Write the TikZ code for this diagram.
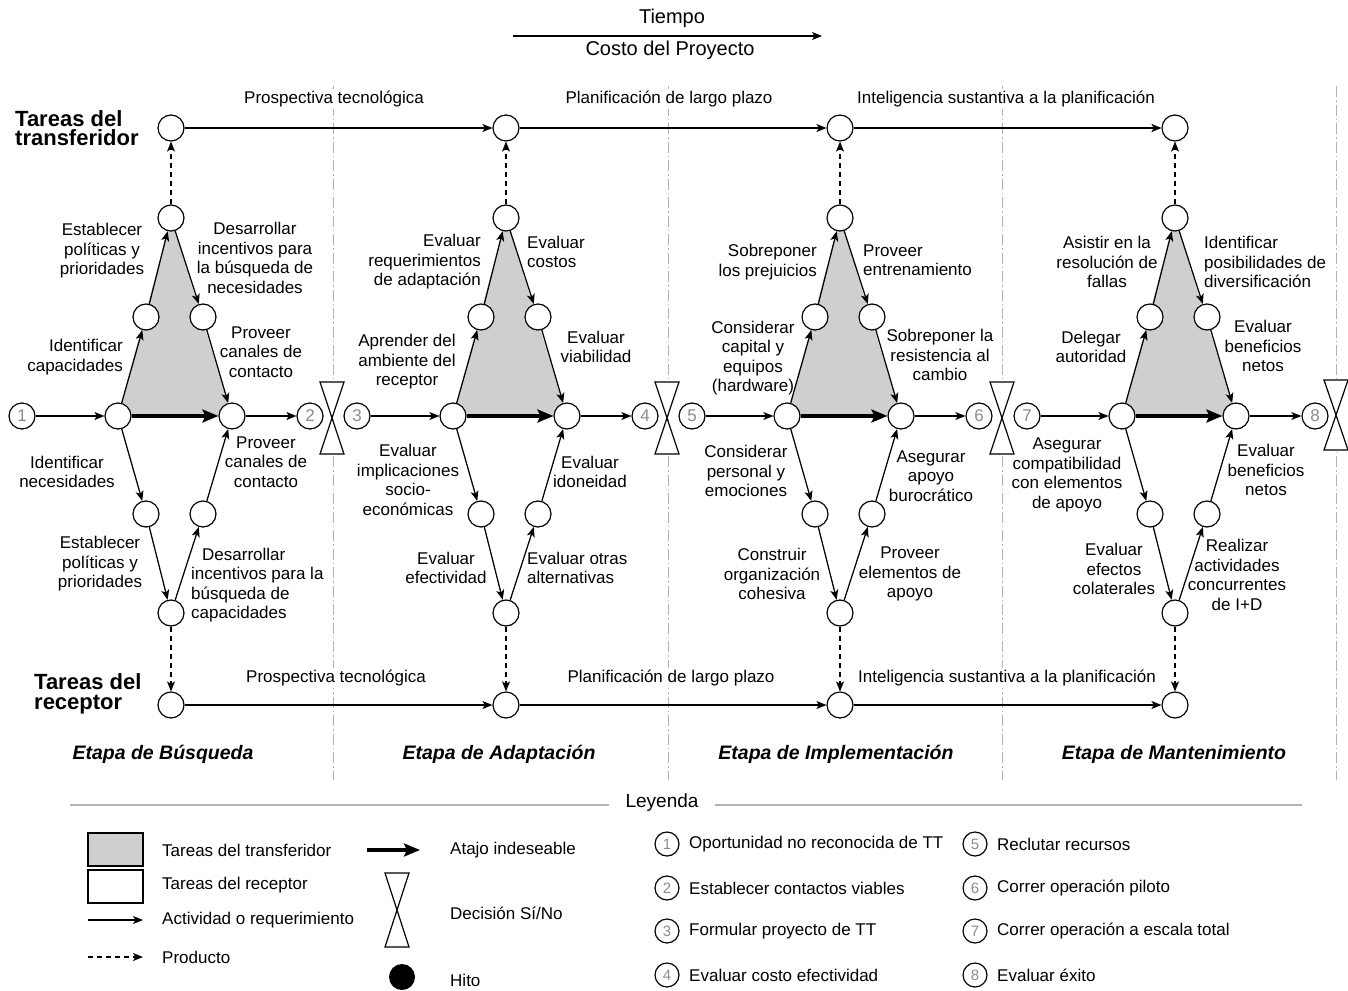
\documentclass[tikz,border=0pt]{standalone}
\usepackage{fontspec}
\setmainfont{Liberation Sans}
\usetikzlibrary{arrows.meta}
\newcommand{\myhourglass}[4]{% name, x, y, half height
  \draw[line width=1.2pt, fill=white] (#2-12,#3-#4) -- (#2+12,#3-#4) -- (#2-12,#3+#4) -- (#2+12,#3+#4) -- cycle;
  \coordinate (#1) at (#2,#3);}
\newcommand{\mystage}[2]{% id, cx
  \fill[shadefill] (#2-53,416) -- (#2,218) -- (#2+61,416) -- cycle;
  \node[circ] (T#1) at (#2,128) {};
  \node[circ] (A#1) at (#2,218) {};
  \node[circ] (ML#1) at (#2-25,317) {};
  \node[circ] (MR#1) at (#2+32,317) {};
  \node[circ] (L#1) at (#2-53,416) {};
  \node[circ] (R#1) at (#2+61,416) {};
  \node[circ] (BL#1) at (#2-25,514) {};
  \node[circ] (BR#1) at (#2+32,514) {};
  \node[circ] (B#1) at (#2,613) {};
  \node[circ] (P#1) at (#2,705) {};
  \draw[act] (L#1) -- (ML#1);
  \draw[act] (ML#1) -- (A#1);
  \draw[act] (A#1) -- (MR#1);
  \draw[act] (MR#1) -- (R#1);
  \draw[shortcut] (L#1) -- (R#1);
  \draw[act] (L#1) -- (BL#1);
  \draw[act] (BL#1) -- (B#1);
  \draw[act] (B#1) -- (BR#1);
  \draw[act] (BR#1) -- (R#1);
  \draw[prod] (A#1) -- (T#1);
  \draw[prod] (B#1) -- (P#1);}
\begin{document}
\begin{tikzpicture}[x=1pt,y=-1pt,
  every node/.style={font=\fontsize{17}{19.5}\selectfont, inner sep=0pt},
  circ/.style={circle, draw, fill=white, minimum size=26pt, line width=1.2pt},
  numc/.style={circ, text=black!45},
  shadefill/.style={fill=black!19},
  act/.style={line width=1.25pt, -{Stealth[length=10pt,width=8pt,inset=2.5pt]}},
  prod/.style={act, dash pattern=on 5pt off 4pt},
  shortcut/.style={line width=4.5pt, -{Stealth[length=16pt,width=13pt,inset=3pt]}},
  divider/.style={draw=black!30, line width=0.9pt, dash pattern=on 11pt off 3pt on 1.5pt off 3pt},
  lbl/.style={align=center},
  toplbl/.style={fill=white, inner sep=2pt},
  tareas/.style={align=left, anchor=west, font=\fontsize{22}{19.5}\selectfont\bfseries},
  etapa/.style={font=\fontsize{19.5}{22}\selectfont\bfseries\itshape},
  legtext/.style={anchor=west}
]
\useasboundingbox (0,0) rectangle (1348,990);

% timeline
\coordinate (t0) at (513,36);
\coordinate (t1) at (822,36);
\draw[line width=1.25pt, -{Stealth[length=10pt,width=8pt,inset=2.5pt]}] (t0) -- (t1);
\node[font=\fontsize{20}{22}\selectfont] (tiempo) at (672,18) {Tiempo};
\node[font=\fontsize{20}{22}\selectfont] (costo) at (670,50) {Costo del Proyecto};

% dividers
\foreach \x/\n in {333/d1,668/d2,1002/d3,1336/d4}{
  \coordinate (\n a) at (\x,86);
  \coordinate (\n b) at (\x,780);
  \draw[divider] (\n a) -- (\n b);
}

% stages
\mystage{1}{171}
\mystage{2}{506}
\mystage{3}{840}
\mystage{4}{1175}

% top and bottom lines
\draw[act] (T1) -- (T2);
\draw[act] (T2) -- (T3);
\draw[act] (T3) -- (T4);
\draw[act] (P1) -- (P2);
\draw[act] (P2) -- (P3);
\draw[act] (P3) -- (P4);

\node[toplbl] (tl1) at (334,99) {Prospectiva tecnológica};
\node[toplbl] (tl2) at (669,99) {Planificación de largo plazo};
\node[toplbl] (tl3) at (1006,99) {Inteligencia sustantiva a la planificación};
\node[toplbl] (bl1) at (336,678) {Prospectiva tecnológica};
\node[toplbl] (bl2) at (671,678) {Planificación de largo plazo};
\node[toplbl] (bl3) at (1007,678) {Inteligencia sustantiva a la planificación};

% numbered milestones
\node[numc] (n1) at (22,416) {1};
\node[numc] (n2) at (310,416) {2};
\node[numc] (n3) at (357,416) {3};
\node[numc] (n4) at (645,416) {4};
\node[numc] (n5) at (692,416) {5};
\node[numc] (n6) at (979,416) {6};
\node[numc] (n7) at (1027,416) {7};
\node[numc] (n8) at (1315,416) {8};
\draw[act] (n1) -- (L1);  \draw[act] (R1) -- (n2);
\draw[act] (n3) -- (L2);  \draw[act] (R2) -- (n4);
\draw[act] (n5) -- (L3);  \draw[act] (R3) -- (n6);
\draw[act] (n7) -- (L4);  \draw[act] (R4) -- (n8);

% decisions
\myhourglass{h1}{332}{418}{36}
\myhourglass{h2}{667}{418}{36}
\myhourglass{h3}{1002}{418}{36}
\myhourglass{h4}{1336}{415}{35}

% side titles
\node[tareas] (ttrans) at (15,128) {Tareas del\\transferidor};
\node[tareas] (trecep) at (34,694) {Tareas del\\receptor};

% stage 1 labels
\node[lbl] (s1a) at (102,251) {Establecer\\políticas y\\prioridades};
\node[lbl] (s1b) at (255,258) {Desarrollar\\incentivos para\\la búsqueda de\\necesidades};
\node[align=right, anchor=east] (s1c) at (123,357) {Identificar\\capacidades};
\node[lbl] (s1d) at (261,352) {Proveer\\canales de\\contacto};
\node[lbl] (s1e) at (67,472) {Identificar\\necesidades};
\node[lbl] (s1f) at (266,462) {Proveer\\canales de\\contacto};
\node[lbl] (s1g) at (100,564) {Establecer\\políticas y\\prioridades};
\node[align=left, anchor=west] (s1h) at (191,585) {\hspace{11pt}Desarrollar\\incentivos para la\\búsqueda de\\capacidades};

% stage 2 labels
\node[align=right, anchor=east] (s2a) at (481,262) {Evaluar\\requerimientos\\de adaptación};
\node[align=left, anchor=west] (s2b) at (527,252) {Evaluar\\costos};
\node[lbl] (s2c) at (407,362) {Aprender del\\ambiente del\\receptor};
\node[lbl] (s2d) at (596,347) {Evaluar\\viabilidad};
\node[lbl] (s2e) at (408,480) {Evaluar\\implicaciones\\socio-\\económicas};
\node[lbl] (s2f) at (590,472) {Evaluar\\idoneidad};
\node[lbl] (s2g) at (446,568) {Evaluar\\efectividad};
\node[align=left, anchor=west] (s2h) at (527,568) {Evaluar otras\\alternativas};

% stage 3 labels
\node[align=right, anchor=east] (s3a) at (817,262) {Sobreponer\\los prejuicios};
\node[align=left, anchor=west] (s3b) at (863,260) {Proveer\\entrenamiento};
\node[lbl] (s3c) at (753,358) {Considerar\\capital y\\equipos\\(hardware)};
\node[lbl] (s3d) at (940,355) {Sobreponer la\\resistencia al\\cambio};
\node[lbl] (s3e) at (746,471) {Considerar\\personal y\\emociones};
\node[lbl] (s3f) at (931,476) {Asegurar\\apoyo\\burocrático};
\node[lbl] (s3g) at (772,574) {Construir\\organización\\cohesiva};
\node[lbl] (s3h) at (910,574) {Proveer\\elementos de\\apoyo};

% stage 4 labels
\node[lbl] (s4a) at (1107,262) {Asistir en la\\resolución de\\fallas};
\node[align=left, anchor=west] (s4b) at (1204,262) {Identificar\\posibilidades de\\diversificación};
\node[lbl] (s4c) at (1091,347) {Delegar\\autoridad};
\node[lbl] (s4d) at (1263,346) {Evaluar\\beneficios\\netos};
\node[lbl] (s4e) at (1067,475) {Asegurar\\compatibilidad\\con elementos\\de apoyo};
\node[lbl] (s4f) at (1266,470) {Evaluar\\beneficios\\netos};
\node[lbl] (s4g) at (1114,569) {Evaluar\\efectos\\colaterales};
\node[lbl] (s4h) at (1237,575) {Realizar\\actividades\\concurrentes\\de I+D};

% stage names
\node[etapa] (e1) at (163,754) {Etapa de Búsqueda};
\node[etapa] (e2) at (499,754) {Etapa de Adaptación};
\node[etapa] (e3) at (836,754) {Etapa de Implementación};
\node[etapa] (e4) at (1174,754) {Etapa de Mantenimiento};

% legend
\node[font=\fontsize{19}{22}\selectfont] (ley) at (662,803) {Leyenda};
\coordinate (lg1) at (70,805);
\coordinate (lg2) at (1302,805);
\draw[black!30, line width=1.2pt] (lg1) -- ([xshift=-16pt]ley.west |- lg1);
\draw[black!30, line width=1.2pt] ([xshift=16pt]ley.east |- lg2) -- (lg2);

\draw[line width=1.2pt, shadefill] (88,833) rectangle (143,866);
\node[legtext] (lt1) at (162,850) {Tareas del transferidor};
\draw[line width=1.2pt] (88,870) rectangle (143,903);
\node[legtext] (lt2) at (162,885) {Tareas del receptor};
\coordinate (la1) at (88,920); \coordinate (la2) at (143,920);
\draw[act] (la1) -- (la2);
\node[legtext] (lt3) at (162,920) {Actividad o requerimiento};
\coordinate (lp1) at (88,957); \coordinate (lp2) at (143,957);
\draw[prod] (lp1) -- (lp2);
\node[legtext] (lt4) at (162,957) {Producto};

\coordinate (ls1) at (367,850); \coordinate (ls2) at (420,850);
\draw[shortcut] (ls1) -- (ls2);
\node[legtext] (lt5) at (450,850) {Atajo indeseable};
\myhourglass{lh}{397}{910}{37}
\node[legtext] (lt6) at (450,913) {Decisión Sí/No};
\fill (402,977) circle (13);
\node[legtext] (lt7) at (450,980) {Hito};

\foreach \i/\x/\y/\t in {1/667/844/Oportunidad no reconocida de TT,
                         2/667/888/Establecer contactos viables,
                         3/667/931/Formular proyecto de TT,
                         4/667/975/Evaluar costo efectividad,
                         5/975/844/Reclutar recursos,
                         6/975/888/Correr operación piloto,
                         7/975/931/Correr operación a escala total,
                         8/975/975/Evaluar éxito}{
  \node[numc, minimum size=24pt, font=\fontsize{15}{17}\selectfont] (lc\i) at (\x,\y) {\i};
  \node[legtext] (lct\i) at (\x+22,\y) {\t};
}
\end{tikzpicture}
\end{document}
